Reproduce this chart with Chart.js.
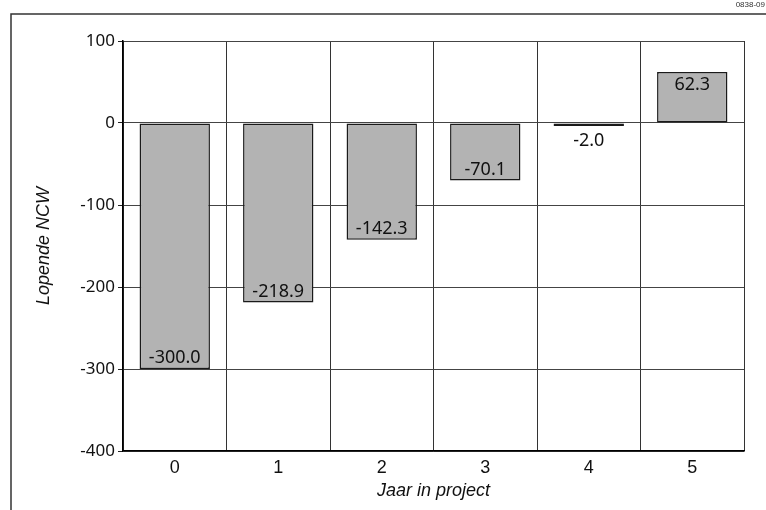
<!DOCTYPE html>
<html>
<head>
<meta charset="UTF-8">
<title>Lopende NCW</title>
<script src="https://cdn.jsdelivr.net/npm/chart.js@4.4.1/dist/chart.umd.min.js"></script>
<style>
    body { margin: 0; background: #fff; }
    #wrap { position: relative; width: 766px; height: 510px; }
    #code { position: absolute; right: 1px; top: 0px; font: 8px "Liberation Sans", Arial, sans-serif; color: #333; }
</style>
</head>
<body>
<div id="wrap">
    <div id="code">0838-09</div>
    <canvas id="ncwChart" width="766" height="510"></canvas>
</div>
<script>
const jaren = ['0', '1', '2', '3', '4', '5'];
const lopendeNcw = [-300.0, -218.9, -142.3, -70.1, -2.0, 62.3];
const yTicks = [100, 0, -100, -200, -300, -400];

// outer frame (top + left line)
const frame = {
    id: 'frame',
    beforeDraw(chart) {
        const ctx = chart.ctx;
        ctx.save();
        ctx.strokeStyle = '#333';
        ctx.lineWidth = 1.5;
        ctx.beginPath();
        ctx.moveTo(11, 510);
        ctx.lineTo(11, 14);
        ctx.lineTo(766, 14);
        ctx.stroke();
        ctx.restore();
    }
};

// value labels at the end of each bar
const barLabels = {
    id: 'barLabels',
    afterDatasetsDraw(chart) {
        const ctx = chart.ctx;
        const meta = chart.getDatasetMeta(0);
        ctx.save();
        ctx.font = '18px "Noto Sans", sans-serif';
        ctx.fillStyle = '#111';
        ctx.textAlign = 'center';
        ctx.textBaseline = 'middle';
        meta.data.forEach((bar, i) => {
            const v = lopendeNcw[i];
            const len = Math.abs(bar.y - bar.base);
            let y;
            if (len > 26) {
                y = v < 0 ? bar.y - 11 : bar.y + 13;
            } else {
                y = v < 0 ? bar.y + 15 : bar.y - 15;
            }
            ctx.fillText(v.toFixed(1), bar.x, y);
        });
        ctx.restore();
    }
};

new Chart(document.getElementById('ncwChart').getContext('2d'), {
    type: 'bar',
    data: {
        labels: jaren,
        datasets: [{
            data: lopendeNcw,
            backgroundColor: '#b3b3b3',
            borderColor: '#1a1a1a',
            borderWidth: 1.5,
            borderSkipped: false,
            minBarLength: 3,
            categoryPercentage: 1,
            barPercentage: 0.68
        }]
    },
    options: {
        responsive: false,
        animation: false,
        devicePixelRatio: 1,
        layout: { padding: { left: 11, right: 22, top: 41, bottom: 0 } },
        plugins: {
            legend: { display: false },
            tooltip: { enabled: false }
        },
        scales: {
            x: {
                grid: { offset: true, color: '#333', lineWidth: 1, drawTicks: false },
                border: { color: '#000', width: 1.5 },
                ticks: { color: '#111', padding: 6, font: { family: '"Liberation Sans", Arial, sans-serif', size: 18 } },
                title: {
                    display: true,
                    text: 'Jaar in project',
                    color: '#111',
                    padding: { top: 0, bottom: 8 },
                    font: { family: '"Liberation Sans", Arial, sans-serif', size: 18, style: 'italic' }
                },
                afterFit(s) { s.height = 59; }
            },
            y: {
                min: -400,
                max: 100,
                afterBuildTicks(s) { s.ticks = yTicks.map(v => ({ value: v })); },
                grid: { color: '#444', lineWidth: 1, tickLength: 5, tickColor: '#222' },
                border: { color: '#000', width: 1.5 },
                ticks: { color: '#111', padding: 3, font: { family: '"Noto Sans", sans-serif', size: 17 } },
                title: {
                    display: true,
                    text: 'Lopende NCW',
                    color: '#111',
                    padding: { top: 22, bottom: 0 },
                    font: { family: '"Liberation Sans", Arial, sans-serif', size: 18, style: 'italic' }
                },
                afterFit(s) { s.width = 112; }
            }
        }
    },
    plugins: [frame, barLabels]
});
</script>
</body>
</html>
